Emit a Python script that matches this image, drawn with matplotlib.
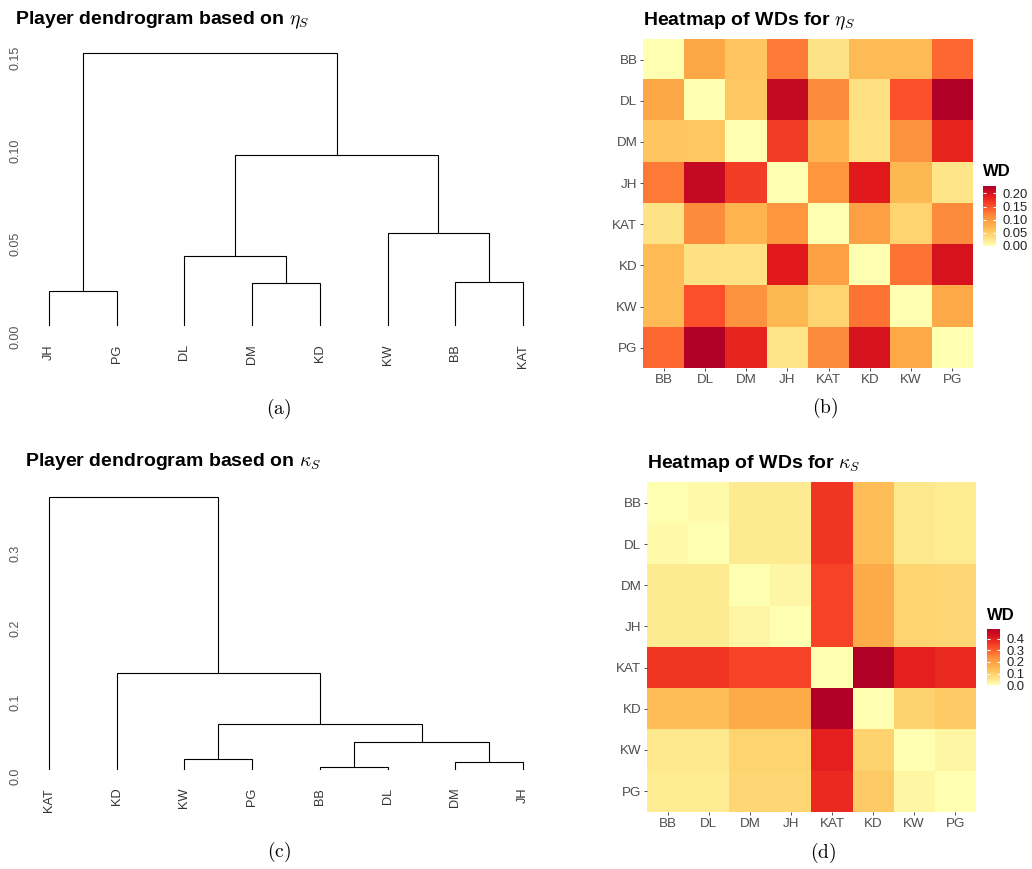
import matplotlib
matplotlib.use("Agg")
import matplotlib.pyplot as plt
import numpy as np
from matplotlib.colors import LinearSegmentedColormap

plt.rcParams['font.family'] = ['Liberation Sans', 'DejaVu Sans']
plt.rcParams['mathtext.fontset'] = 'cm'

W, H = 1032, 869

players = ["BB", "DL", "DM", "JH", "KAT", "KD", "KW", "PG"]

# Wasserstein distances between players, rows/cols in `players` order
wd_eta = [
    [0.000, 0.087, 0.057, 0.125, 0.028, 0.068, 0.068, 0.137],
    [0.087, 0.000, 0.056, 0.212, 0.114, 0.030, 0.152, 0.228],
    [0.057, 0.056, 0.000, 0.164, 0.073, 0.029, 0.107, 0.183],
    [0.125, 0.212, 0.164, 0.000, 0.105, 0.190, 0.070, 0.025],
    [0.028, 0.114, 0.073, 0.105, 0.000, 0.095, 0.043, 0.114],
    [0.068, 0.030, 0.029, 0.190, 0.095, 0.000, 0.130, 0.200],
    [0.068, 0.152, 0.107, 0.070, 0.043, 0.130, 0.000, 0.085],
    [0.137, 0.228, 0.183, 0.025, 0.114, 0.200, 0.085, 0.000],
]
wd_kappa = [
    [0.000, 0.010, 0.044, 0.044, 0.360, 0.140, 0.048, 0.042],
    [0.010, 0.000, 0.044, 0.044, 0.360, 0.140, 0.048, 0.042],
    [0.044, 0.044, 0.000, 0.018, 0.340, 0.175, 0.090, 0.085],
    [0.044, 0.044, 0.018, 0.000, 0.340, 0.175, 0.090, 0.085],
    [0.360, 0.360, 0.340, 0.340, 0.000, 0.485, 0.395, 0.380],
    [0.140, 0.140, 0.175, 0.175, 0.485, 0.000, 0.095, 0.110],
    [0.048, 0.048, 0.090, 0.090, 0.395, 0.095, 0.000, 0.020],
    [0.042, 0.042, 0.085, 0.085, 0.380, 0.110, 0.020, 0.000],
]

# dendrograms: leaf order, merges (left, right, height); str = leaf, int = earlier merge
eta_order = ["JH", "PG", "DL", "DM", "KD", "KW", "BB", "KAT"]
eta_merges = [("JH", "PG", 0.0250), ("DM", "KD", 0.0292), ("DL", 1, 0.0436),
              ("BB", "KAT", 0.0299), ("KW", 3, 0.0562), (2, 4, 0.0980), (0, 5, 0.1527)]
eta_leaf_h = 0.0066
eta_ticks = [0.00, 0.05, 0.10, 0.15]

kappa_order = ["KAT", "KD", "KW", "PG", "BB", "DL", "DM", "JH"]
kappa_merges = [("BB", "DL", 0.0134), ("DM", "JH", 0.0198), ("KW", "PG", 0.0238),
                (0, 1, 0.0470), (2, 3, 0.0704), ("KD", 4, 0.139), ("KAT", 5, 0.3763)]
kappa_leaf_h = 0.0099
kappa_ticks = [0.0, 0.1, 0.2, 0.3]

ylorrd = ["#ffffb2", "#fed976", "#feb24c", "#fd8d3c", "#fc4e2a", "#e31a1c", "#b10026"]
cmap = LinearSegmentedColormap.from_list("ylorrd", ylorrd)


def px_axes(fig, left, top, right, bottom):
    return fig.add_axes([left / W, 1 - bottom / H, (right - left) / W, (bottom - top) / H])


def draw_dendro(ax, order, merges, leaf_h, ticks, ymax, label_pad):
    xpos = {name: i + 1 for i, name in enumerate(order)}
    node_x, node_h = [], []

    def get(ref):
        if isinstance(ref, str):
            return xpos[ref], leaf_h
        return node_x[ref], node_h[ref]

    for a, b, h in merges:
        xa, ha = get(a)
        xb, hb = get(b)
        ax.plot([xa, xa, xb, xb], [ha, h, h, hb], color="black", lw=0.8,
                solid_joinstyle="miter")
        node_x.append((xa + xb) / 2)
        node_h.append(h)

    ax.set_xlim(0.7, 8.5)
    ax.set_ylim(0, ymax)
    ax.set_xticks(range(1, len(order) + 1))
    ax.set_xticklabels(order, rotation=90, va="top", ha="center")
    ax.set_yticks(ticks)
    ax.set_yticklabels([f"{t:.2f}" if ymax < 0.2 else f"{t:.1f}" for t in ticks],
                       rotation=90, va="center")
    ax.tick_params(axis="x", length=0, pad=label_pad, labelsize=9.2, labelcolor="#333333")
    ax.tick_params(axis="y", length=0, pad=5, labelsize=9, labelcolor="#555555")
    for s in ax.spines.values():
        s.set_visible(False)


def draw_heat(fig, ax, cax, mat, ticks, fmt):
    mat = np.array(mat)
    im = ax.imshow(mat, cmap=cmap, vmin=0, vmax=mat.max(), aspect="auto",
                   interpolation="nearest")
    ax.set_xticks(range(len(players)))
    ax.set_xticklabels(players)
    ax.set_yticks(range(len(players)))
    ax.set_yticklabels(players)
    ax.tick_params(length=2.2, width=0.6, color="#333333", labelcolor="#4D4D4D",
                   labelsize=9.6, pad=2)
    for s in ax.spines.values():
        s.set_visible(False)

    cb = fig.colorbar(im, cax=cax, ticks=ticks, format=fmt)
    cb.outline.set_visible(False)
    cax.tick_params(which="both", color="white", length=2, width=0.8, direction="in",
                    left=True, right=True, labelsize=9.4, pad=5, labelcolor="#222222")


fig = plt.figure(figsize=(W / 100, H / 100), dpi=100)

# (a) dendrogram eta
ax_a = px_axes(fig, 28.7, 45, 557, 337.3)
draw_dendro(ax_a, eta_order, eta_merges, eta_leaf_h, eta_ticks, 292.3 / 1860, 5)
fig.text(15 / W, 1 - 20 / H, r"Player dendrogram based on $\eta_S$", fontsize=14,
         fontweight="bold", va="center", ha="left")

# (c) dendrogram kappa
ax_c = px_axes(fig, 28.7, 488, 557, 776.7)
draw_dendro(ax_c, kappa_order, kappa_merges, kappa_leaf_h, kappa_ticks, 288.7 / 744, 8)
fig.text(25 / W, 1 - 462 / H, r"Player dendrogram based on $\kappa_S$", fontsize=14,
         fontweight="bold", va="center", ha="left")

# (b) heatmap eta
ax_b = px_axes(fig, 643.3, 39, 972.7, 368.3)
cax_b = px_axes(fig, 983, 186, 996, 246)
draw_heat(fig, ax_b, cax_b, wd_eta, [0.0, 0.05, 0.10, 0.15, 0.20], "%.2f")
fig.text(643.3 / W, 1 - 21 / H, r"Heatmap of WDs for $\eta_S$", fontsize=14,
         fontweight="bold", va="center", ha="left")
fig.text(983 / W, 1 - 172 / H, "WD", fontsize=12, fontweight="bold", va="center", ha="left")

# (d) heatmap kappa
ax_d = px_axes(fig, 647.3, 482.3, 975.7, 811.7)
cax_d = px_axes(fig, 987.3, 628.7, 1000, 685.3)
draw_heat(fig, ax_d, cax_d, wd_kappa, [0.0, 0.1, 0.2, 0.3, 0.4], "%.1f")
fig.text(647.3 / W, 1 - 463 / H, r"Heatmap of WDs for $\kappa_S$", fontsize=14,
         fontweight="bold", va="center", ha="left")
fig.text(987.3 / W, 1 - 615 / H, "WD", fontsize=12, fontweight="bold", va="center", ha="left")

# captions
for label, x, y in [("(a)", 279, 409), ("(b)", 825, 408), ("(c)", 279, 852), ("(d)", 823, 853)]:
    fig.text(x / W, 1 - y / H, r"$\mathrm{" + label + "}$", fontsize=14, ha="center", va="center")

fig.savefig("out.png", dpi=100)
